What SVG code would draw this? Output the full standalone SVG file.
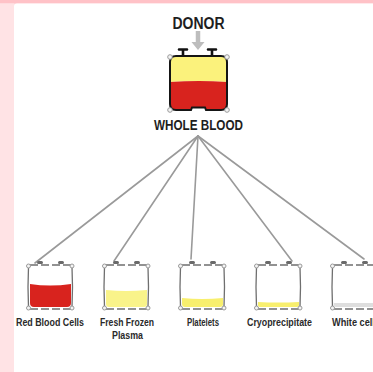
<svg xmlns="http://www.w3.org/2000/svg" width="373" height="372" viewBox="0 0 373 372">
  <style>
    .title { font-family: "Liberation Sans", Arial, sans-serif; font-weight: bold; fill: #1e1e1e; text-anchor: middle; }
    .label { font-family: "Liberation Sans", Arial, sans-serif; font-weight: bold; font-size: 10.5px; fill: #2a2a2a; text-anchor: middle; }
    .link { stroke: #9a9a9a; stroke-width: 1.6; fill: none; stroke-linecap: round; }
    .edge { stroke: #6f6f6f; stroke-width: 1.3; fill: none; }
    .dash { stroke: #6f6f6f; stroke-width: 1.6; stroke-dasharray: 8 3; fill: none; }
    .corner { fill: #f4f4f4; stroke: #9a9a9a; stroke-width: 1; }
    .cap { fill: #6a6a6a; }
  </style>
  <defs>
    <!-- empty component bag, 46 x 44, top-left at origin -->
    <g id="bag">
      <rect class="cap" x="10" y="-4" width="6" height="3" rx="1.5"/>
      <rect class="cap" x="31" y="-4" width="6" height="3" rx="1.5"/>
      <line class="dash" x1="3" y1="0" x2="44" y2="0"/>
      <line class="dash" x1="3" y1="44" x2="44" y2="44"/>
      <path class="edge" d="M1.5 2 Q0.5 22 1.5 42"/>
      <path class="edge" d="M45 2 Q46 22 45 42"/>
      <circle class="corner" cx="1.5" cy="1" r="2"/>
      <circle class="corner" cx="45" cy="1" r="2"/>
      <circle class="corner" cx="1.5" cy="43" r="2"/>
      <circle class="corner" cx="45" cy="43" r="2"/>
    </g>
  </defs>

  <!-- page background -->
  <rect x="0" y="0" width="373" height="372" fill="#ffe3e5"/>
  <rect x="0" y="0" width="373" height="3.5" fill="#ffc2c7"/>
  <rect x="14" y="3.5" width="370" height="380" rx="3" fill="#ffffff"/>

  <!-- connectors -->
  <g id="connectors">
    <path d="M198 31 L198 43" stroke="#bdbdbd" stroke-width="4.5" fill="none"/>
    <path d="M191.5 42 L204.5 42 L198 50 Z" fill="#bdbdbd"/>
    <line class="link" x1="198" y1="136" x2="35" y2="263"/>
    <line class="link" x1="198" y1="136" x2="114" y2="261"/>
    <line class="link" x1="198" y1="136" x2="191" y2="259"/>
    <line class="link" x1="198" y1="136" x2="292" y2="261"/>
    <line class="link" x1="198" y1="136" x2="364" y2="259"/>
  </g>

  <g id="donor">
    <text class="title" x="198.5" y="28.5" font-size="16" textLength="52" lengthAdjust="spacingAndGlyphs">DONOR</text>
  </g>

  <g id="whole-blood">
    <!-- caps -->
    <path d="M179 49.5 h8 M183 49.5 v6 M208 49.5 h8 M212 49.5 v6" stroke="#111" stroke-width="2.6" fill="none" stroke-linecap="round"/>
    <!-- plasma layer -->
    <path d="M170 62 Q170 56 176 56 L221 56 Q227 56 227 62 L227 82 Q199 80 170 82 Z" fill="#fbf27c"/>
    <!-- red cell layer -->
    <path d="M170 82 Q199 80 227 82 L227 104 Q227 110 221 110 L206 110 L205 107.5 L192 107.5 L191 110 L176 110 Q170 110 170 104 Z" fill="#d8231e"/>
    <!-- outline -->
    <path d="M176 56 L221 56 Q227 56 227 62 L227 104 Q227 110 221 110 L206 110 L205 107.5 L192 107.5 L191 110 L176 110 Q170 110 170 104 L170 62 Q170 56 176 56 Z" fill="none" stroke="#151515" stroke-width="2"/>
    <circle class="corner" cx="170" cy="57" r="2.3"/>
    <circle class="corner" cx="227" cy="57" r="2.3"/>
    <circle class="corner" cx="170" cy="110" r="2.3"/>
    <circle class="corner" cx="227" cy="110" r="2.3"/>
    <text class="title" x="198.5" y="129.5" font-size="14.5" textLength="89" lengthAdjust="spacingAndGlyphs">WHOLE BLOOD</text>
  </g>

  <g id="red-blood-cells">
    <path d="M30 284 Q50 287 71 284 L71 303 Q71 307 67 307 L34 307 Q30 307 30 303 Z" fill="#d8231e"/>
    <use href="#bag" x="27" y="265"/>
    <text class="label" x="50" y="326" textLength="68" lengthAdjust="spacingAndGlyphs">Red Blood Cells</text>
  </g>

  <g id="fresh-frozen-plasma">
    <path d="M106 290 Q126 292 147 290 L147 304 Q147 307 144 307 L109 307 Q106 307 106 304 Z" fill="#f9f38a"/>
    <use href="#bag" x="103" y="265"/>
    <text class="label" x="127" y="326" textLength="54" lengthAdjust="spacingAndGlyphs">Fresh Frozen</text>
    <text class="label" x="127.5" y="339" textLength="31" lengthAdjust="spacingAndGlyphs">Plasma</text>
  </g>

  <g id="platelets">
    <path d="M182 298 Q202 300 223 298 L223 304 Q223 307 220 307 L185 307 Q182 307 182 304 Z" fill="#f8ef6e"/>
    <use href="#bag" x="179" y="265"/>
    <text class="label" x="203" y="326" textLength="32" lengthAdjust="spacingAndGlyphs">Platelets</text>
  </g>

  <g id="cryoprecipitate">
    <path d="M258 302 Q278 303 299 302 L299 305 Q299 307 296 307 L261 307 Q258 307 258 305 Z" fill="#f8ef6e"/>
    <use href="#bag" x="255" y="265"/>
    <text class="label" x="279.5" y="326" textLength="65" lengthAdjust="spacingAndGlyphs">Cryoprecipitate</text>
  </g>

  <g id="white-cells">
    <path d="M334 303 L375 303 L375 307 L337 307 Q334 307 334 305 Z" fill="#dedede"/>
    <use href="#bag" x="331" y="265"/>
    <text class="label" x="332" y="326" style="text-anchor:start" textLength="48" lengthAdjust="spacingAndGlyphs">White cells</text>
  </g>

  <!-- page margin over the left edge -->
  <rect x="0" y="3.5" width="14" height="369" fill="#ffe3e5"/>
</svg>
